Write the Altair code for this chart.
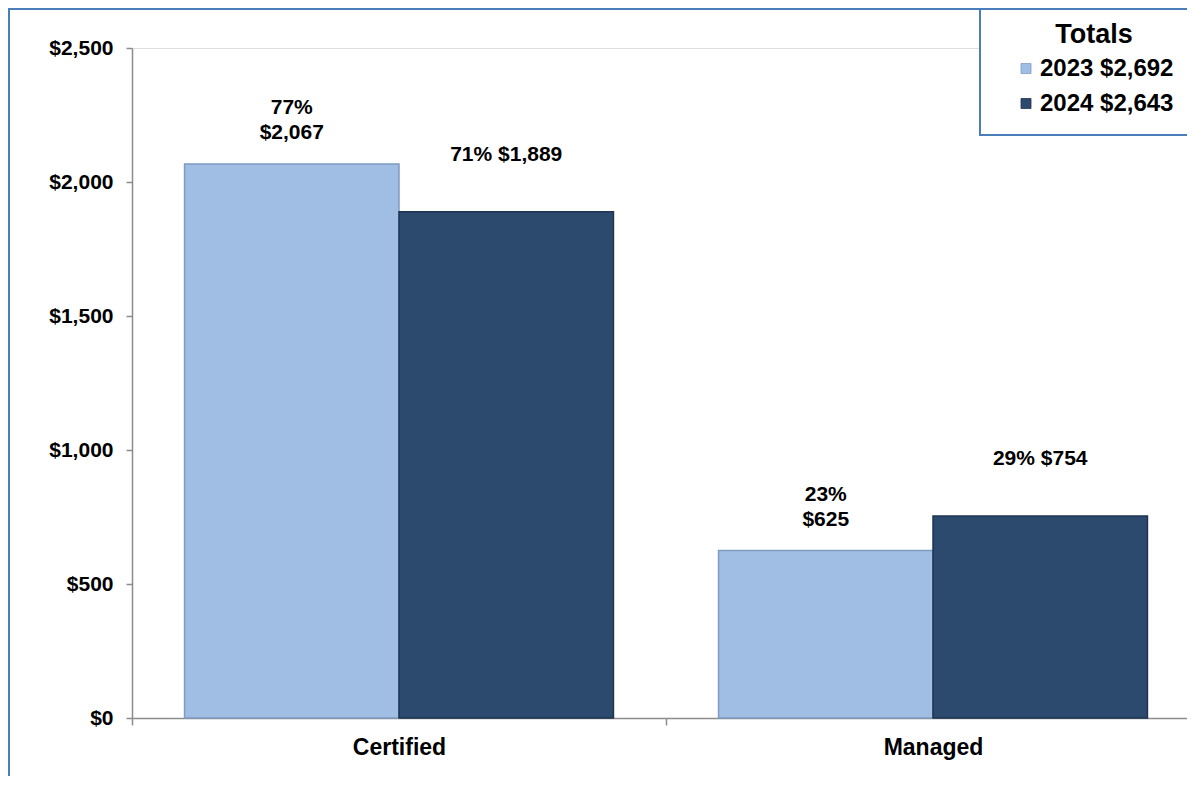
import altair as alt
import pandas as pd

# ---- data ----
categories = ["Certified", "Managed"]
years = ["2023", "2024"]
values_2023 = [2067, 625]
values_2024 = [1889, 754]
pct_2023 = ["77%", "23%"]
pct_2024 = ["71%", "29%"]
totals = {"2023": "$2,692", "2024": "$2,643"}
y_ticks = [0, 500, 1000, 1500, 2000, 2500]

LIGHT = "#A0BEE4"
DARK = "#2C496E"
LIGHT_EDGE = "#7F9BC2"
DARK_EDGE = "#1E3452"
FRAME = "#4A7EBB"
FONT = "Liberation Sans"

rows = []
for i, c in enumerate(categories):
    rows.append({"category": c, "year": "2023", "value": values_2023[i],
                 "label": f"{pct_2023[i]}\n${values_2023[i]:,}"})
    rows.append({"category": c, "year": "2024", "value": values_2024[i],
                 "label": f"{pct_2024[i]} ${values_2024[i]:,}"})
df = pd.DataFrame(rows)

label_expr = " : ".join(
    [f"datum.label == '{y}' ? '{y} {totals[y]}'" for y in years]) + " : datum.label"

x_enc = alt.X("category:N", sort=categories,
              scale=alt.Scale(domain=categories, paddingInner=0, paddingOuter=0,
                              range=[0, 1068]),
              axis=alt.Axis(title=None, labelAngle=0, tickBand="extent",
                            labelFontSize=23, labelFont=FONT, labelFontWeight="bold",
                            labelColor="black", labelPadding=11, tickSize=7,
                            tickColor="#8C8C8C", domainColor="#8C8C8C",
                            domainWidth=1.5, tickWidth=1.5, grid=False))
xoff_enc = alt.XOffset("year:N", sort=years,
                       scale=alt.Scale(domain=years, paddingInner=0, paddingOuter=0.245))
y_enc = alt.Y("value:Q", scale=alt.Scale(domain=[0, 2500], nice=False, zero=True),
              axis=alt.Axis(title=None, values=y_ticks, format="$,.0f",
                            labelFontSize=21, labelFont=FONT, labelFontWeight="bold",
                            labelColor="black", labelPadding=13, tickSize=6,
                            tickColor="#8C8C8C", domainColor="#8C8C8C",
                            domainWidth=1.5, tickWidth=1.5, grid=False))

base = alt.Chart(df)

bars = base.mark_bar(strokeWidth=1.5).encode(
    x=x_enc, xOffset=xoff_enc, y=y_enc,
    color=alt.Color("year:N", sort=years,
                    scale=alt.Scale(domain=years, range=[LIGHT, DARK]),
                    legend=alt.Legend(title="Totals", orient="none",
                                      legendX=882, legendY=-26.5,
                                      padding=0, symbolType="square",
                                      symbolSize=100, symbolStrokeColor="#4A5A70",
                                      symbolStrokeWidth=0.8,
                                      labelExpr=label_expr,
                                      labelFontSize=24, labelFont=FONT,
                                      labelFontWeight="bold", labelColor="black",
                                      labelOffset=2, rowPadding=11,
                                      titleFontSize=27, titleFont=FONT,
                                      titleFontWeight="bold", titleColor="black",
                                      titleAnchor="middle", titlePadding=8)),
    stroke=alt.Stroke("year:N", sort=years,
                      scale=alt.Scale(domain=years, range=[LIGHT_EDGE, DARK_EDGE]),
                      legend=None),
)

lab23 = base.transform_filter(alt.datum.year == "2023").mark_text(
    baseline="bottom", align="center", dy=-46, lineBreak="\n", lineHeight=25,
    fontSize=21, font=FONT, fontWeight="bold", color="black"
).encode(x=x_enc, xOffset=xoff_enc, y=y_enc, text="label:N")

lab24 = base.transform_filter(alt.datum.year == "2024").mark_text(
    baseline="bottom", align="center", dy=-47, lineBreak="\n", lineHeight=25,
    fontSize=21, font=FONT, fontWeight="bold", color="black"
).encode(x=x_enc, xOffset=xoff_enc, y=y_enc, text="label:N")

one = alt.Data(values=[{}])
legend_box = alt.Chart(one).mark_rect(fill="white", stroke=FRAME, strokeWidth=2).encode(
    x=alt.value(848), x2=alt.value(1090), y=alt.value(-39), y2=alt.value(87))
frame_top = alt.Chart(one).mark_rule(color=FRAME, strokeWidth=2).encode(
    x=alt.value(-124), x2=alt.value(1090), y=alt.value(-39))
frame_left = alt.Chart(one).mark_rule(color=FRAME, strokeWidth=2).encode(
    x=alt.value(-123), y=alt.value(-40), y2=alt.value(740))

chart = alt.layer(frame_top, frame_left, legend_box, bars, lab23, lab24).properties(
    width=1055, height=670,
    padding={"left": 124, "top": 40, "right": 0, "bottom": 58},
    autosize=alt.AutoSizeParams(type="none"),
).configure_view(stroke=None).configure(background="white")

chart.save("out.html", embed_options={"renderer": "svg", "actions": False})
